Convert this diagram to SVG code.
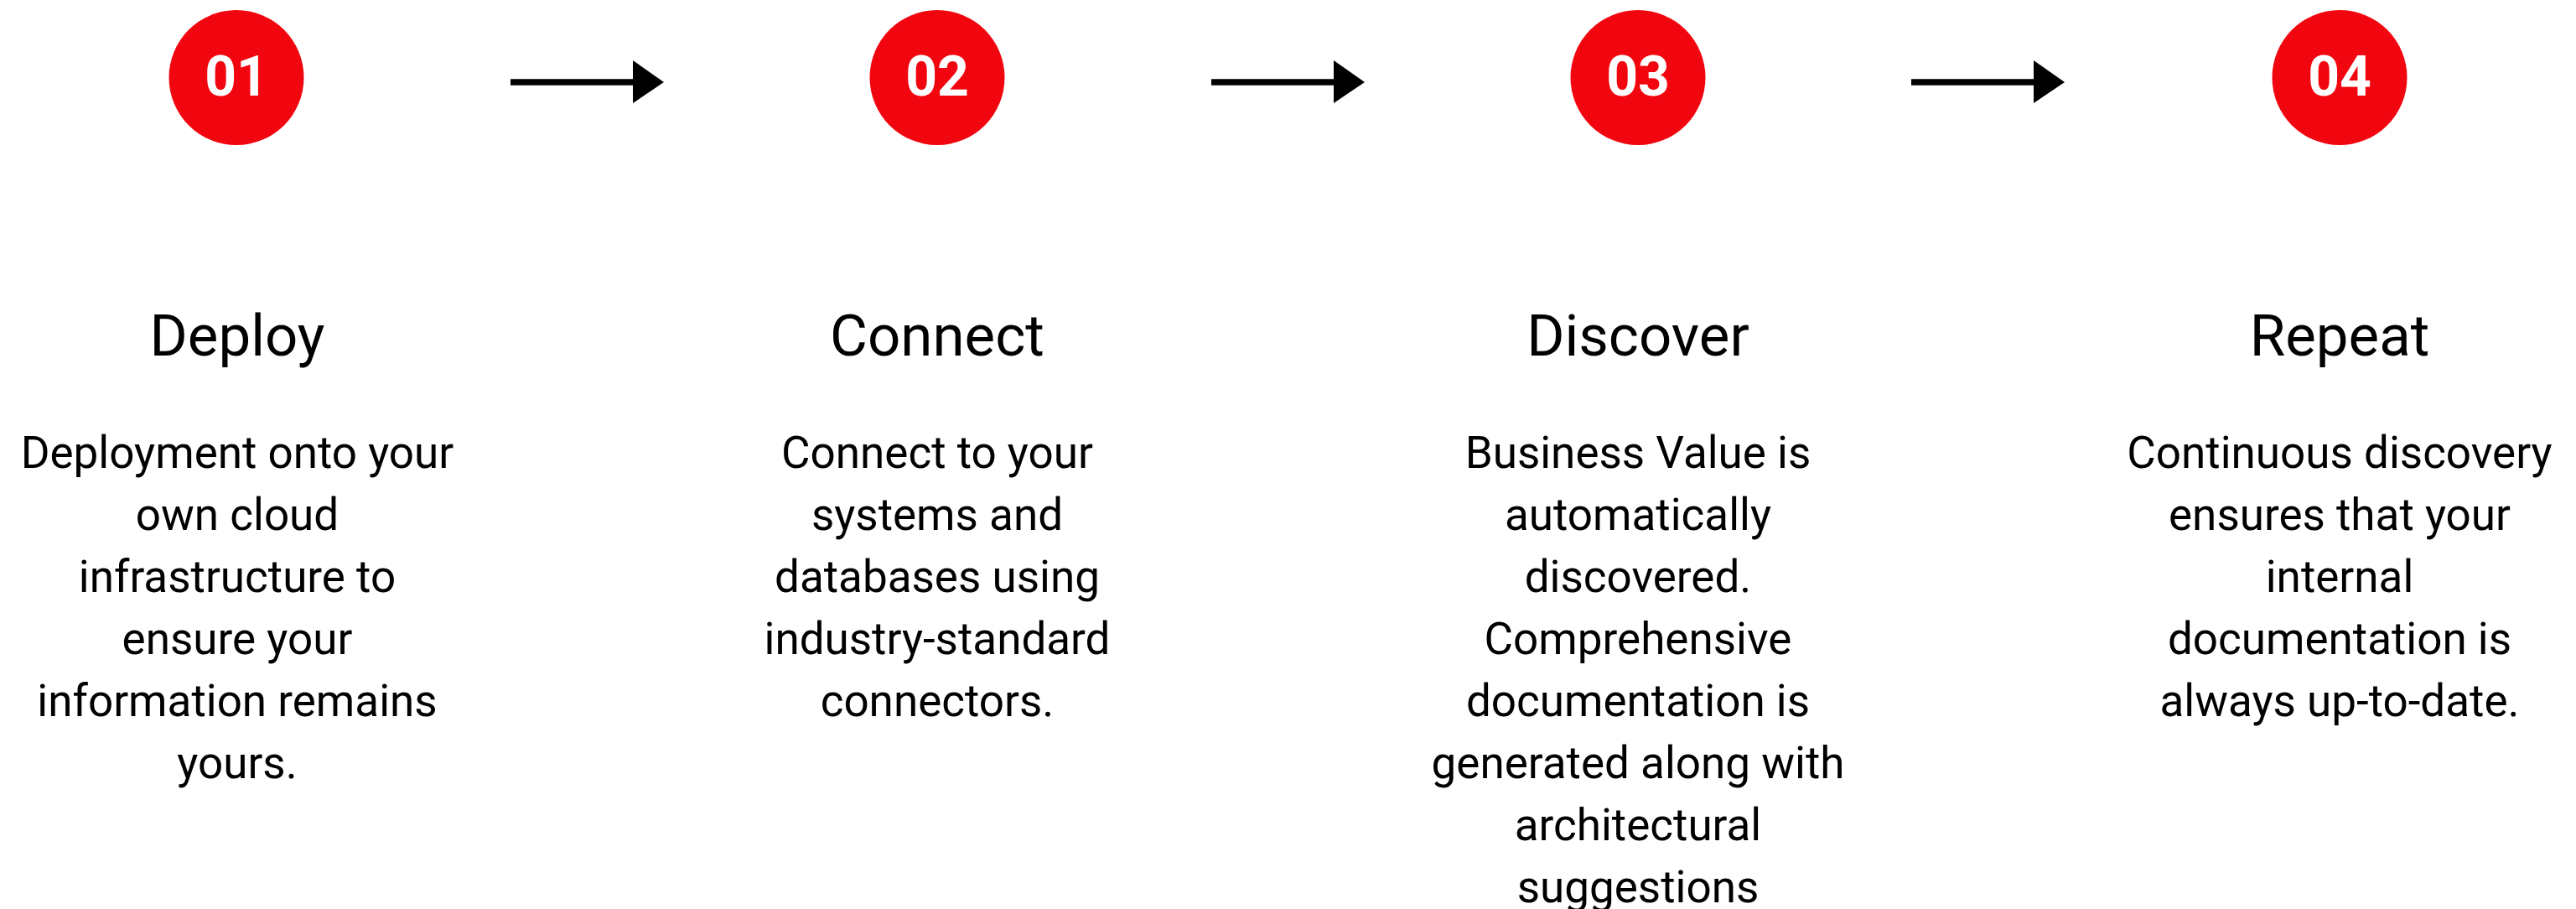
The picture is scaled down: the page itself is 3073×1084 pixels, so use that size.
<svg xmlns="http://www.w3.org/2000/svg" width="3073" height="1084" viewBox="0 0 3073 1084">
<style>
.num{font-family:Roboto,"Liberation Sans",sans-serif;font-weight:700;font-size:66px;fill:#fff;text-anchor:middle}
.title{font-family:Roboto,"Liberation Sans",sans-serif;font-size:69px;fill:#000;text-anchor:middle}
.body{font-family:Roboto,"Liberation Sans",sans-serif;font-size:53px;fill:#000;text-anchor:middle}
.dot{fill:#F1060F}
.ln{stroke:#000;stroke-width:7.5;fill:none}
</style>
<rect width="3073" height="1084" fill="#fff"/>
<g id="connectors">
<g><line class="ln" x1="609" y1="98" x2="757" y2="98"/><polygon points="755,72 792,98 755,123" fill="#000"/></g>
<g><line class="ln" x1="1445" y1="98" x2="1593" y2="98"/><polygon points="1591,72 1628,98 1591,123" fill="#000"/></g>
<g><line class="ln" x1="2280" y1="98" x2="2428" y2="98"/><polygon points="2426,72 2463,98 2426,123" fill="#000"/></g>
</g>
<g id="step1">
<circle class="dot" cx="282" cy="92.5" r="80.5"/>
<text class="num" x="282" y="114">01</text>
<text class="title" x="283" y="424">Deploy</text>
<text class="body" x="283" y="558">Deployment onto your</text>
<text class="body" x="283" y="632">own cloud</text>
<text class="body" x="283" y="706">infrastructure to</text>
<text class="body" x="283" y="780">ensure your</text>
<text class="body" x="283" y="854">information remains</text>
<text class="body" x="283" y="928">yours.</text>
</g>
<g id="step2">
<circle class="dot" cx="1118" cy="92.5" r="80.5"/>
<text class="num" x="1118" y="114">02</text>
<text class="title" x="1118" y="424">Connect</text>
<text class="body" x="1118" y="558">Connect to your</text>
<text class="body" x="1118" y="632">systems and</text>
<text class="body" x="1118" y="706">databases using</text>
<text class="body" x="1118" y="780">industry-standard</text>
<text class="body" x="1118" y="854">connectors.</text>
</g>
<g id="step3">
<circle class="dot" cx="1954" cy="92.5" r="80.5"/>
<text class="num" x="1954" y="114">03</text>
<text class="title" x="1954" y="424">Discover</text>
<text class="body" x="1954" y="558">Business Value is</text>
<text class="body" x="1954" y="632">automatically</text>
<text class="body" x="1954" y="706">discovered.</text>
<text class="body" x="1954" y="780">Comprehensive</text>
<text class="body" x="1954" y="854">documentation is</text>
<text class="body" x="1954" y="928">generated along with</text>
<text class="body" x="1954" y="1002">architectural</text>
<text class="body" x="1954" y="1076">suggestions</text>
</g>
<g id="step4">
<circle class="dot" cx="2791" cy="92.5" r="80.5"/>
<text class="num" x="2791" y="114">04</text>
<text class="title" x="2791" y="424">Repeat</text>
<text class="body" x="2791" y="558">Continuous discovery</text>
<text class="body" x="2791" y="632">ensures that your</text>
<text class="body" x="2791" y="706">internal</text>
<text class="body" x="2791" y="780">documentation is</text>
<text class="body" x="2791" y="854">always up-to-date.</text>
</g>
</svg>
